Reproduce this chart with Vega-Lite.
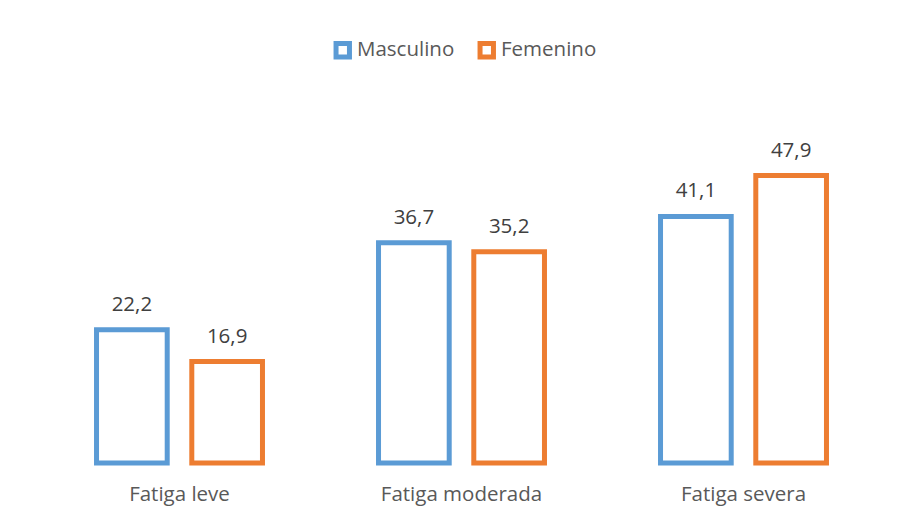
{
  "$schema": "https://vega.github.io/schema/vega-lite/v6.json",
  "width": 846,
  "height": 360,
  "autosize": {"type": "none"},
  "padding": {"left": 38.5, "top": 103, "right": 14.5, "bottom": 54},
  "background": "white",
  "config": {
    "view": {"stroke": null},
    "font": "Open Sans",
    "locale": {"number": {"decimal": ",", "thousands": ".", "grouping": [3], "currency": ["", " €"]}}
  },
  "data": {
    "values": [
      {"nivel": "Fatiga leve", "sexo": "Masculino", "valor": 22.2},
      {"nivel": "Fatiga leve", "sexo": "Femenino", "valor": 16.9},
      {"nivel": "Fatiga moderada", "sexo": "Masculino", "valor": 36.7},
      {"nivel": "Fatiga moderada", "sexo": "Femenino", "valor": 35.2},
      {"nivel": "Fatiga severa", "sexo": "Masculino", "valor": 41.1},
      {"nivel": "Fatiga severa", "sexo": "Femenino", "valor": 47.9}
    ]
  },
  "encoding": {
    "x": {
      "field": "nivel", "type": "nominal", "sort": null,
      "scale": {"paddingInner": 0, "paddingOuter": 0},
      "axis": {"title": null, "domain": false, "ticks": false, "labelAngle": 0, "labelFontSize": 20.5, "labelColor": "#595959", "labelPadding": 21, "labelFont": "Open Sans"}
    },
    "xOffset": {
      "field": "sexo", "type": "nominal", "sort": ["Masculino", "Femenino"],
      "scale": {"paddingInner": 0.258, "paddingOuter": 0.609}
    },
    "y": {
      "field": "valor", "type": "quantitative",
      "scale": {"domain": [0, 60], "nice": false},
      "axis": null
    }
  },
  "layer": [
    {
      "mark": {"type": "bar", "fill": "white", "strokeWidth": 5},
      "encoding": {
        "stroke": {
          "field": "sexo", "type": "nominal",
          "sort": ["Masculino", "Femenino"],
          "scale": {"domain": ["Masculino", "Femenino"], "range": ["#5B9BD5", "#ED7D31"]},
          "legend": {
            "title": null, "orient": "none", "direction": "horizontal",
            "legendX": 294, "legendY": -63,
            "symbolType": "square", "symbolSize": 180, "symbolStrokeWidth": 5, "symbolFillColor": "white",
            "labelFontSize": 20.5, "labelColor": "#595959", "labelFont": "Open Sans", "labelOffset": 4,
            "columnPadding": 15, "padding": 0
          }
        }
      }
    },
    {
      "mark": {"type": "text", "dy": -19, "baseline": "alphabetic", "fontSize": 20.5, "color": "#404040", "font": "Open Sans"},
      "encoding": {
        "text": {"field": "valor", "type": "quantitative", "format": ".1f"}
      }
    }
  ]
}
